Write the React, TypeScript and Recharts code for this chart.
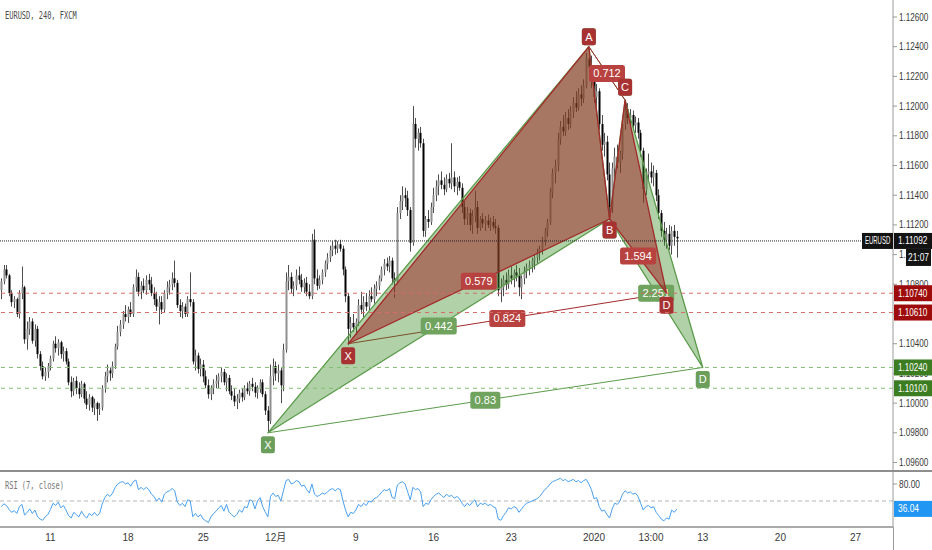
import React from "react";
import {
  ComposedChart,
  LineChart,
  Line,
  Bar,
  Scatter,
  XAxis,
  YAxis,
  ReferenceLine,
  ReferenceDot,
} from "recharts";

const FONT = "'Liberation Sans', 'Noto Sans CJK JP', sans-serif";
const MONO = "'DejaVu Sans Mono', monospace";

// 4h candles, [open, high, low, close] in pips above 1.0900
const BASE = 1.09;
const CANDLES: number[][] = [
  [176, 184, 170, 182], [182, 193, 180, 190], [190, 193, 184, 186], [186, 187, 172, 174], [174, 176, 165, 168],
  [168, 172, 164, 170], [170, 171, 158, 160], [160, 176, 157, 174], [174, 192, 170, 178], [178, 179, 140, 143],
  [143, 155, 136, 150], [150, 158, 146, 155], [155, 157, 140, 142], [142, 153, 138, 150], [150, 152, 130, 133],
  [133, 135, 122, 125], [125, 128, 116, 118], [118, 124, 115, 121], [121, 127, 117, 125], [125, 132, 122, 130],
  [130, 142, 128, 140], [140, 145, 134, 137], [137, 143, 132, 141], [141, 142, 130, 133], [133, 138, 128, 135],
  [135, 137, 126, 128], [128, 130, 112, 114], [114, 118, 104, 108], [108, 117, 105, 115], [115, 118, 106, 110],
  [110, 114, 103, 106], [106, 115, 104, 113], [113, 114, 100, 103], [103, 108, 96, 99], [99, 106, 95, 104],
  [104, 105, 94, 97], [97, 103, 92, 100], [100, 101, 88, 96], [96, 100, 92, 97], [97, 112, 95, 110],
  [110, 121, 107, 118], [118, 126, 114, 122], [122, 124, 115, 120], [120, 128, 117, 125], [125, 140, 123, 138],
  [138, 152, 136, 148], [148, 156, 145, 153], [153, 162, 150, 160], [160, 166, 155, 158], [158, 165, 154, 163],
  [163, 168, 158, 160], [160, 180, 158, 178], [178, 190, 175, 185], [185, 188, 172, 175], [175, 182, 170, 179],
  [179, 184, 174, 176], [176, 186, 173, 183], [183, 187, 176, 180], [180, 185, 172, 174], [174, 178, 166, 170],
  [170, 175, 162, 165], [165, 172, 153, 168], [168, 172, 160, 163], [163, 176, 161, 174], [174, 182, 170, 178],
  [178, 183, 173, 180], [180, 188, 176, 184], [184, 196, 178, 181], [181, 183, 164, 166], [166, 170, 158, 162],
  [162, 168, 157, 165], [165, 167, 158, 160], [160, 172, 158, 170], [170, 188, 165, 168], [168, 170, 126, 128],
  [128, 136, 122, 132], [132, 134, 120, 123], [123, 130, 118, 126], [126, 129, 114, 118], [118, 122, 110, 112],
  [112, 116, 103, 106], [106, 112, 102, 110], [110, 116, 106, 113], [113, 119, 110, 115], [115, 120, 110, 118],
  [118, 124, 114, 121], [121, 123, 112, 114], [114, 120, 108, 117], [117, 119, 106, 108], [108, 112, 102, 105],
  [105, 110, 98, 101], [101, 106, 96, 103], [103, 109, 100, 107], [107, 110, 101, 104], [104, 112, 102, 110],
  [110, 114, 106, 108], [108, 115, 105, 113], [113, 117, 108, 111], [111, 114, 104, 107], [107, 112, 103, 110],
  [110, 116, 107, 114], [114, 116, 104, 106], [106, 108, 92, 95], [95, 98, 80, 88], [88, 126, 86, 118],
  [118, 130, 112, 125], [125, 128, 115, 120], [120, 126, 114, 122], [122, 124, 100, 112], [112, 140, 108, 136],
  [136, 188, 134, 182], [182, 193, 176, 185], [185, 188, 174, 177], [177, 182, 172, 179], [179, 190, 176, 186],
  [186, 192, 180, 183], [183, 187, 175, 178], [178, 184, 174, 181], [181, 185, 172, 175], [175, 180, 170, 172],
  [172, 214, 170, 210], [210, 217, 180, 184], [184, 190, 176, 179], [179, 186, 177, 183], [183, 190, 180, 188],
  [188, 196, 185, 194], [194, 201, 190, 198], [198, 206, 195, 203], [203, 209, 199, 206], [206, 210, 200, 204],
  [204, 209, 201, 207], [207, 210, 202, 204], [204, 206, 186, 190], [190, 192, 168, 172], [172, 174, 139, 150],
  [150, 158, 144, 154], [154, 160, 148, 151], [151, 157, 146, 155], [155, 170, 152, 166], [166, 175, 160, 163],
  [163, 172, 158, 168], [168, 174, 162, 165], [165, 176, 162, 172], [172, 178, 168, 170], [170, 180, 167, 177],
  [177, 182, 172, 179], [179, 186, 176, 184], [184, 192, 182, 190], [190, 197, 186, 194], [194, 198, 189, 192],
  [192, 199, 188, 196], [196, 198, 180, 184], [184, 188, 171, 182], [182, 232, 180, 228], [228, 240, 224, 236],
  [236, 246, 230, 240], [240, 245, 232, 238], [238, 243, 226, 230], [230, 232, 202, 208], [208, 300, 206, 288],
  [288, 292, 272, 278], [278, 285, 270, 282], [282, 286, 272, 275], [275, 278, 212, 216], [216, 226, 212, 224],
  [224, 230, 218, 222], [222, 235, 220, 232], [232, 245, 228, 240], [240, 250, 236, 246], [246, 254, 240, 250],
  [250, 256, 244, 247], [247, 252, 240, 244], [244, 254, 242, 251], [251, 255, 245, 248], [248, 275, 244, 252],
  [252, 256, 242, 246], [246, 252, 240, 249], [249, 253, 243, 245], [245, 248, 228, 232], [232, 236, 220, 224],
  [224, 232, 220, 228], [228, 231, 216, 220], [220, 230, 214, 226], [226, 243, 222, 232], [232, 236, 214, 218],
  [218, 226, 216, 224], [224, 228, 218, 221], [221, 226, 216, 223], [223, 227, 218, 220], [220, 225, 216, 222],
  [222, 226, 217, 219], [219, 224, 214, 218], [218, 220, 172, 176], [176, 184, 168, 178], [178, 186, 172, 183],
  [183, 188, 176, 180], [180, 190, 177, 186], [186, 192, 180, 184], [184, 190, 178, 188], [188, 193, 182, 186],
  [186, 191, 172, 178], [178, 186, 170, 184], [184, 192, 180, 189], [189, 194, 184, 191], [191, 196, 186, 193],
  [193, 198, 188, 196], [196, 200, 190, 198], [198, 204, 194, 201], [201, 206, 196, 204], [204, 212, 200, 210],
  [210, 218, 206, 216], [216, 224, 212, 222], [222, 245, 220, 242], [242, 258, 238, 255], [255, 264, 248, 260],
  [260, 282, 256, 278], [278, 290, 274, 286], [286, 294, 280, 283], [283, 296, 280, 292], [292, 298, 284, 288],
  [288, 300, 285, 296], [296, 306, 292, 302], [302, 310, 296, 299], [299, 312, 297, 308], [308, 314, 300, 305],
  [305, 318, 302, 314], [314, 336, 312, 332], [332, 340, 322, 326], [326, 334, 312, 318], [318, 322, 302, 306],
  [306, 315, 300, 310], [310, 312, 284, 288], [288, 294, 270, 274], [274, 282, 266, 276], [276, 280, 250, 254],
  [254, 262, 223, 232], [232, 262, 228, 258], [258, 272, 252, 266], [266, 274, 258, 262], [262, 270, 255, 268],
  [268, 292, 264, 288], [288, 304, 284, 298], [298, 302, 288, 292], [292, 298, 286, 294], [294, 297, 284, 287],
  [287, 293, 282, 289], [289, 292, 278, 282], [282, 284, 266, 270], [270, 272, 235, 244], [244, 258, 240, 254],
  [254, 268, 250, 256], [256, 262, 248, 252], [252, 260, 246, 255], [255, 257, 236, 240], [240, 244, 224, 228],
  [228, 230, 212, 216], [216, 222, 206, 210], [210, 218, 204, 214], [214, 220, 203, 206], [206, 219, 200, 216],
  [216, 220, 206, 212], [212, 216, 198, 210.92],
];

const RSI: number[] = [
  40, 45, 42, 35, 30, 33, 28, 40, 44, 25, 30, 36, 28, 34, 22, 18, 16, 22, 26, 35,
  46, 42, 48, 38, 42, 34, 24, 20, 30, 26, 22, 32, 24, 20, 28, 24, 30, 24, 28, 45,
  56, 62, 58, 64, 74, 80, 83, 84, 80, 82, 76, 84, 87, 70, 74, 70, 74, 70, 62, 58,
  50, 55, 48, 62, 66, 68, 72, 68, 48, 42, 46, 40, 52, 50, 22, 28, 22, 26, 18, 15,
  12, 22, 28, 32, 38, 42, 32, 44, 30, 26, 22, 26, 34, 30, 40, 38, 52, 50, 36, 50,
  56, 40, 30, 22, 58, 64, 58, 60, 50, 68, 86, 88, 80, 82, 86, 84, 76, 78, 70, 64,
  80, 62, 58, 60, 64, 62, 66, 70, 72, 68, 72, 70, 50, 34, 22, 30, 28, 34, 44, 40,
  46, 42, 50, 48, 54, 56, 60, 66, 70, 68, 72, 56, 54, 78, 82, 84, 80, 66, 52, 74,
  70, 72, 66, 40, 46, 44, 52, 58, 62, 64, 60, 56, 62, 58, 60, 55, 58, 54, 46, 40,
  46, 42, 48, 52, 40, 46, 44, 46, 42, 44, 40, 38, 18, 16, 24, 30, 38, 36, 40, 38,
  30, 36, 42, 46, 48, 50, 52, 54, 58, 64, 70, 74, 80, 84, 86, 88, 90, 86, 88, 84,
  86, 88, 84, 86, 82, 86, 88, 80, 70, 54, 56, 40, 32, 34, 26, 20, 36, 46, 44, 50,
  62, 68, 64, 66, 62, 64, 58, 46, 34, 40, 42, 38, 40, 30, 24, 18, 15, 20, 18, 34,
  30, 36.04,
];

const SLOTS = 345;
const DATE_TICKS = [19, 49, 78, 106, 137, 167, 197, 229, 251, 271, 301, 330];
const DATE_LABELS = ["11", "18", "25", "12月", "9", "16", "23", "2020", "13:00", "13", "20", "27"];
const PRICE_TICKS = [1.096, 1.098, 1.1, 1.102, 1.104, 1.106, 1.108, 1.11, 1.112, 1.114, 1.116, 1.118, 1.12, 1.122, 1.124, 1.126];
const RSI_TICKS = [80];
const LAST_PRICE = 1.11092;
const LAST_RSI = 36.04;
const COUNTDOWN = "21:07";

// XABCD points [bar index, price]
const PT_NAMES = ["X", "A", "B", "C", "D"];
const PT_DY = [12, -10, 11, -13, 12];
const GREEN_PTS = [[103, 1.098], [227, 1.124], [235, 1.1124], [241, 1.1204], [271, 1.1024]];
const RED_PTS = [[134, 1.104], [227, 1.124], [235, 1.1124], [241, 1.1204], [257, 1.1074]];
// ratios on XB, AC, BD, XD
const GREEN_RATIOS = ["0.442", "", "2.251", "0.83"];
const RED_RATIOS = ["0.579", "0.712", "1.594", "0.824"];
const RED_LEVELS = [1.1074, 1.1061];
const GREEN_LEVELS = [1.1024, 1.101];

const RED = { fill: "rgba(160,30,30,0.5)", line: "#a32a2a", tag: "#a83232", ratio: "#b8423f", level: "#d96a6a", axis: "#9e0b0b" };
const GREEN = { fill: "rgba(60,140,40,0.4)", line: "#5b9b4a", tag: "#6b9e5a", ratio: "#6fa35e", level: "#86bf72", axis: "#3c7d22" };

const rows = CANDLES.map(([o, h, l, c], i) => ({
  i,
  o: BASE + o / 1e4,
  h: BASE + h / 1e4,
  l: BASE + l / 1e4,
  c: BASE + c / 1e4,
  range: [BASE + l / 1e4, BASE + h / 1e4],
  rsi: RSI[i],
}));

const candleShape = (props: any) => {
  const { x, y, width, height, payload } = props;
  if (!payload || !isFinite(y)) return <g />;
  const { o, h, l, c } = payload;
  const cx = Math.round(x + width / 2) + 0.5;
  const py = (v: number) => y + ((h - v) / (h - l)) * height;
  const top = py(Math.max(o, c));
  const bot = py(Math.min(o, c));
  const up = c >= o;
  return (
    <g>
      <line x1={cx} x2={cx} y1={y} y2={y + height} stroke="#4d4d4d" strokeWidth={1} />
      <rect x={cx - 1} y={top} width={2} height={Math.max(1, bot - top)} fill={up ? "#8f8f8f" : "#000"} />
    </g>
  );
};

const polygon = (fill: string, stroke: string) => (lp: any) => (
  <polygon
    points={(lp.points || []).map((q: any) => `${q.x},${q.y}`).join(" ")}
    fill={fill}
    stroke={stroke}
    strokeWidth={1.3}
    strokeLinejoin="round"
  />
);

const tag = (text: string, fill: string, dy: number) => (p: any) => {
  const w = text.length === 1 ? 14 : text.length * 6 + 6;
  return (
    <g>
      <rect x={p.cx - w / 2} y={p.cy + dy - 8.5} width={w} height={17} rx={2.5} fill={fill} />
      <text
        x={p.cx}
        y={p.cy + dy + 4}
        textAnchor="middle"
        fill="#fff"
        fontSize={11}
        fontFamily="'Liberation Sans', sans-serif"
      >
        {text}
      </text>
    </g>
  );
};

// narrow text squeezed to the width the reference uses (about 4.2px per character)
const narrow = (s: string) => ({ textLength: s.length * 4.2, lengthAdjust: "spacingAndGlyphs" as const });

const axisTick = (fmt: (v: number) => string) => (p: any) => {
  const s = fmt(p.payload.value);
  return (
    <text x={p.x} y={p.y} dy="0.355em" fontSize={10} fill="#3a3a3a" fontFamily={FONT} {...narrow(s)}>
      {s}
    </text>
  );
};

const axisTag = (text: string, bg: string, extra?: "last") => (props: any) => {
  const vb = props.viewBox || {};
  const x = vb.x + vb.width;
  const y = vb.y;
  return (
    <g>
      {extra === "last" && (
        <g>
          <rect x={x - 31} y={y - 8} width={31} height={16} fill="#131313" />
          <text x={x - 28} y={y + 3.5} fill="#fff" fontSize={10} fontFamily={FONT} {...narrow("EURUSD")}>
            EURUSD
          </text>
          <rect x={x + 13} y={y + 8} width={25} height={17} fill="#131313" />
          <text x={x + 15} y={y + 20} fill="#fff" fontSize={10} fontFamily={FONT} {...narrow(COUNTDOWN)}>
            {COUNTDOWN}
          </text>
        </g>
      )}
      <rect x={x + 1} y={y - 8} width={38} height={16} fill={bg} />
      <text x={x + 5} y={y + 3.5} fill="#fff" fontSize={10} fontFamily={FONT} {...narrow(text)}>
        {text}
      </text>
    </g>
  );
};

const patternLayers = (pts: number[][], ratios: string[], col: any, key: string) => {
  const P = pts.map(([i, p]) => ({ i, p }));
  const segs = [[0, 2], [1, 3], [2, 4], [0, 4]];
  const out: any[] = [];
  out.push(
    <Scatter
      key={key + "xab"}
      data={[P[0], P[1], P[2]]}
      dataKey="p"
      line={polygon(col.fill, col.line)}
      shape={() => <g />}
      isAnimationActive={false}
      legendType="none"
    />
  );
  out.push(
    <Scatter
      key={key + "bcd"}
      data={[P[2], P[3], P[4]]}
      dataKey="p"
      line={polygon(col.fill, col.line)}
      shape={() => <g />}
      isAnimationActive={false}
      legendType="none"
    />
  );
  out.push(
    <ReferenceLine key={key + "ac"} segment={[{ x: P[1].i, y: P[1].p }, { x: P[3].i, y: P[3].p }]} stroke={col.line} strokeWidth={1} />
  );
  out.push(
    <ReferenceLine key={key + "xd"} segment={[{ x: P[0].i, y: P[0].p }, { x: P[4].i, y: P[4].p }]} stroke={col.line} strokeWidth={1} />
  );
  segs.forEach(([a, b], k) => {
    if (!ratios[k]) return;
    out.push(
      <ReferenceDot
        key={key + "r" + k}
        x={(P[a].i + P[b].i) / 2}
        y={(P[a].p + P[b].p) / 2}
        r={0}
        shape={tag(ratios[k], col.ratio, 0)}
      />
    );
  });
  P.forEach((q, k) => {
    out.push(<ReferenceDot key={key + "v" + k} x={q.i} y={q.p} r={0} shape={tag(PT_NAMES[k], col.tag, PT_DY[k])} />);
  });
  return out;
};

const overlayText: React.CSSProperties = {
  position: "absolute",
  left: 5,
  fontSize: 10,
  lineHeight: "12px",
  fontFamily: MONO,
  transform: "scaleX(0.7)",
  transformOrigin: "left center",
  whiteSpace: "nowrap",
};

export default function App() {
  return (
    <div style={{ position: "absolute", left: 0, top: 0, width: 932, height: 550, background: "#fff", fontFamily: FONT }}>
      <ComposedChart width={932} height={471} data={rows} margin={{ top: 0, right: 0, bottom: 0, left: 0 }}>
        <XAxis dataKey="i" type="number" domain={[-0.5, SLOTS - 0.5]} allowDataOverflow hide />
        <YAxis
          orientation="right"
          width={39}
          type="number"
          domain={[1.095429, 1.127145]}
          allowDataOverflow
          ticks={PRICE_TICKS}
          interval={0}
          tick={axisTick((v) => v.toFixed(5))}
          tickSize={4}
          tickMargin={2}
          stroke="#9a9a9a"
        />
        <Bar dataKey="range" barSize={2} shape={candleShape} isAnimationActive={false} />
        {patternLayers(GREEN_PTS, GREEN_RATIOS, GREEN, "g")}
        {patternLayers(RED_PTS, RED_RATIOS, RED, "r")}
        {RED_LEVELS.map((v) => (
          <ReferenceLine
            key={"rl" + v}
            y={v}
            stroke={RED.level}
            strokeDasharray="4 4"
            zIndex={2100}
            label={axisTag(v.toFixed(5), RED.axis)}
          />
        ))}
        {GREEN_LEVELS.map((v) => (
          <ReferenceLine
            key={"gl" + v}
            y={v}
            stroke={GREEN.level}
            strokeDasharray="4 4"
            zIndex={2100}
            label={axisTag(v.toFixed(5), GREEN.axis)}
          />
        ))}
        <ReferenceLine
          y={LAST_PRICE}
          stroke="#222"
          strokeDasharray="1 1"
          zIndex={2100}
          label={axisTag(LAST_PRICE.toFixed(5), "#131313", "last")}
        />
      </ComposedChart>
      <div style={{ position: "absolute", left: 0, top: 470, width: 932, height: 2, background: "#8e8e8e" }} />
      <div style={{ position: "absolute", left: 0, top: 471, width: 932 }}>
        <LineChart width={932} height={79} data={rows} margin={{ top: 1, right: 0, bottom: 0, left: 0 }}>
          <XAxis
            dataKey="i"
            type="number"
            domain={[-0.5, SLOTS - 0.5]}
            allowDataOverflow
            ticks={DATE_TICKS}
            interval={0}
            tickFormatter={(v: number) => DATE_LABELS[DATE_TICKS.indexOf(v)] ?? ""}
            tick={{ fontSize: 10, fill: "#3a3a3a", fontFamily: FONT }}
            tickLine={false}
            tickSize={4}
            tickMargin={3}
            height={23}
            stroke="#8e8e8e"
            strokeWidth={1.5}
          />
          <YAxis
            orientation="right"
            width={39}
            type="number"
            domain={[4.1, 101.1]}
            allowDataOverflow
            ticks={RSI_TICKS}
            tick={axisTick((v) => v.toFixed(2))}
            tickSize={4}
            tickMargin={2}
            stroke="#9a9a9a"
          />
          <ReferenceLine y={50} stroke="#b5b5b5" strokeDasharray="4 3" />
          <Line dataKey="rsi" stroke="#4aa0f0" strokeWidth={1} dot={false} isAnimationActive={false} />
          <ReferenceLine y={LAST_RSI} stroke="none" zIndex={2100} label={axisTag(LAST_RSI.toFixed(2), "#2196f3")} />
        </LineChart>
      </div>
      <div style={{ position: "absolute", left: 893, top: 527, width: 1, height: 23, background: "#9a9a9a" }} />
      <div style={{ ...overlayText, top: 10, color: "#4a4a4a" }}>EURUSD, 240, FXCM</div>
      <div style={{ ...overlayText, top: 480, color: "#777" }}>RSI (7, close)</div>
    </div>
  );
}
